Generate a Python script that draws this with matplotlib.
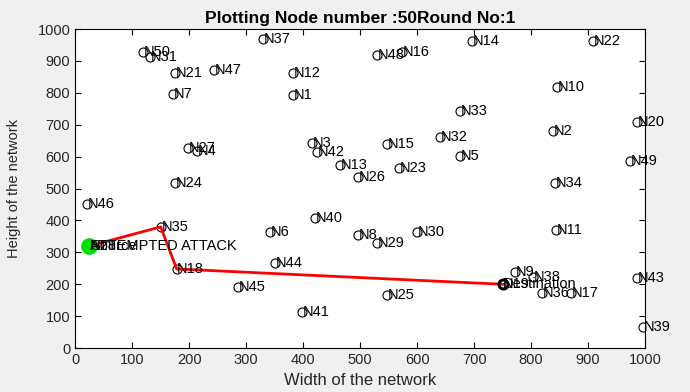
import matplotlib.pyplot as plt

plt.rcParams['font.family'] = ['Liberation Sans', 'DejaVu Sans']

# node positions
node_ids = [1, 2, 3, 4, 5, 6, 7, 8, 9, 10,
            11, 12, 13, 14, 15, 16, 17, 18, 19, 20,
            21, 22, 23, 24, 25, 26, 27, 28, 29, 30,
            31, 32, 33, 34, 35, 36, 37, 38, 39, 40,
            41, 42, 43, 44, 45, 46, 47, 48, 49, 50]
node_x = [382, 839, 416, 214, 675, 342, 172, 496, 772, 845,
          844, 383, 465, 696, 547, 573, 870, 178, 750, 986,
          175, 909, 568, 175, 547, 496, 198, 25, 530, 600,
          131, 640, 675, 842, 150, 819, 330, 804, 997, 421,
          398, 424, 986, 351, 286, 21, 243, 530, 974, 119]
node_y = [793, 680, 643, 618, 602, 364, 796, 354, 238, 818,
          370, 862, 574, 962, 639, 928, 172, 248, 200, 709,
          862, 962, 563, 517, 166, 536, 627, 320, 329, 363,
          912, 663, 743, 517, 380, 172, 968, 223, 66, 407,
          113, 614, 219, 266, 191, 451, 871, 918, 586, 928]

source = 28
destination = 19
route = [28, 35, 18, 19]

fig = plt.figure(figsize=(6.9, 3.92), dpi=100, facecolor='#f0f0f0')
ax = fig.add_axes([0.109, 0.112, 0.826, 0.814])

for i, x, y in zip(node_ids, node_x, node_y):
    ax.plot(x, y, 'o', mfc='none', mec='black', ms=6.5, mew=0.8)
    ax.text(x + 1, y, 'N%d' % i, fontsize=10.5, ha='left', va='center')

# route of the attack
rx = [node_x[node_ids.index(n)] for n in route]
ry = [node_y[node_ids.index(n)] for n in route]
ax.plot(rx, ry, '-', color='red', lw=2)

sx, sy = node_x[node_ids.index(source)], node_y[node_ids.index(source)]
ax.plot(sx, sy, 'o', color='#00dd00', ms=11)
ax.text(sx + 1, sy, 'Source', fontsize=10.5, ha='left', va='center')
ax.text(sx + 1, sy, 'ATTEMPTED ATTACK', fontsize=10.5, ha='left', va='center')

dx, dy = node_x[node_ids.index(destination)], node_y[node_ids.index(destination)]
ax.plot(dx, dy, 'o', mfc='none', mec='black', ms=6.5, mew=2.2)
ax.text(dx + 1, dy, 'Destination', fontsize=10.5, ha='left', va='center')

ax.set_xlim(0, 1000)
ax.set_ylim(0, 1000)
ax.set_xticks(range(0, 1001, 100))
ax.set_yticks(range(0, 1001, 100))
ax.tick_params(direction='in', top=True, right=True, labelsize=10.5, length=4,
               labelcolor='#262626')
ax.set_xlabel('Width of the network', fontsize=12, labelpad=4, color='#262626')
ax.set_ylabel('Height of the network', fontsize=10.5, labelpad=12, color='#262626')
ax.set_title('Plotting Node number :50Round No:1', fontsize=12.5, fontweight='bold', pad=4)

fig.savefig('out.png', dpi=100, facecolor=fig.get_facecolor())
